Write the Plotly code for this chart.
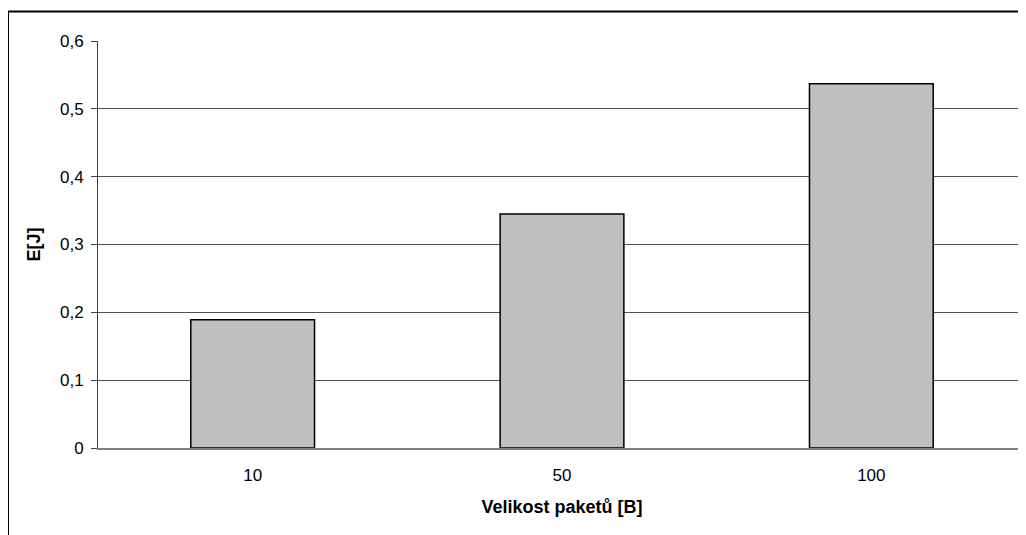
import plotly.graph_objects as go

categories = ["10", "50", "100"]
energy_j = [0.189, 0.345, 0.537]
y_tick_vals = [0, 0.1, 0.2, 0.3, 0.4, 0.5, 0.6]
y_tick_text = ["0", "0,1", "0,2", "0,3", "0,4", "0,5", "0,6"]

# page body has an 8px margin, so the figure starts at (8, 8)
W, H = 1018, 527
ml, mr, mt, mb = 90, 0, 33, 87
pw = W - ml - mr
ph = H - mt - mb

fig = go.Figure()
fig.add_trace(go.Bar(
    x=categories, y=energy_j,
    marker=dict(color="#C0C0C0", line=dict(color="#000000", width=1.5)),
    showlegend=False, hoverinfo="x+y",
))

font_family = "Liberation Sans, Arial, sans-serif"

fig.update_layout(
    width=W, height=H,
    margin=dict(l=ml, r=mr, t=mt, b=mb, pad=0),
    paper_bgcolor="white", plot_bgcolor="white",
    bargap=0.6,
    font=dict(family=font_family, size=17, color="#000000"),
    xaxis=dict(
        type="category",
        showgrid=False,
        showline=True, linecolor="#808080", linewidth=1.5,
        ticks="", tickfont=dict(size=17), ticklabelstandoff=11,
        title=dict(text="<b>Velikost paketů [B]</b>", font=dict(size=18), standoff=16),
        zeroline=False,
    ),
    yaxis=dict(
        range=[0, 0.6],
        tickvals=y_tick_vals, ticktext=y_tick_text,
        showgrid=True, gridcolor="#505050", gridwidth=1,
        showline=True, linecolor="#404040", linewidth=1,
        ticks="outside", ticklen=6, tickcolor="#404040",
        tickfont=dict(size=17), ticklabelstandoff=4,
        title=dict(text="<b>E[J]</b>", font=dict(size=18), standoff=14),
        zeroline=False,
    ),
    shapes=[dict(
        type="rect", xref="paper", yref="paper",
        x0=(0 - ml) / pw, x1=1.2,
        y0=-0.6, y1=(ph + (mt - 3.5)) / ph,
        line=dict(color="#000000", width=2), fillcolor="rgba(0,0,0,0)",
        layer="above",
    )],
)

fig.write_html("out.html")
